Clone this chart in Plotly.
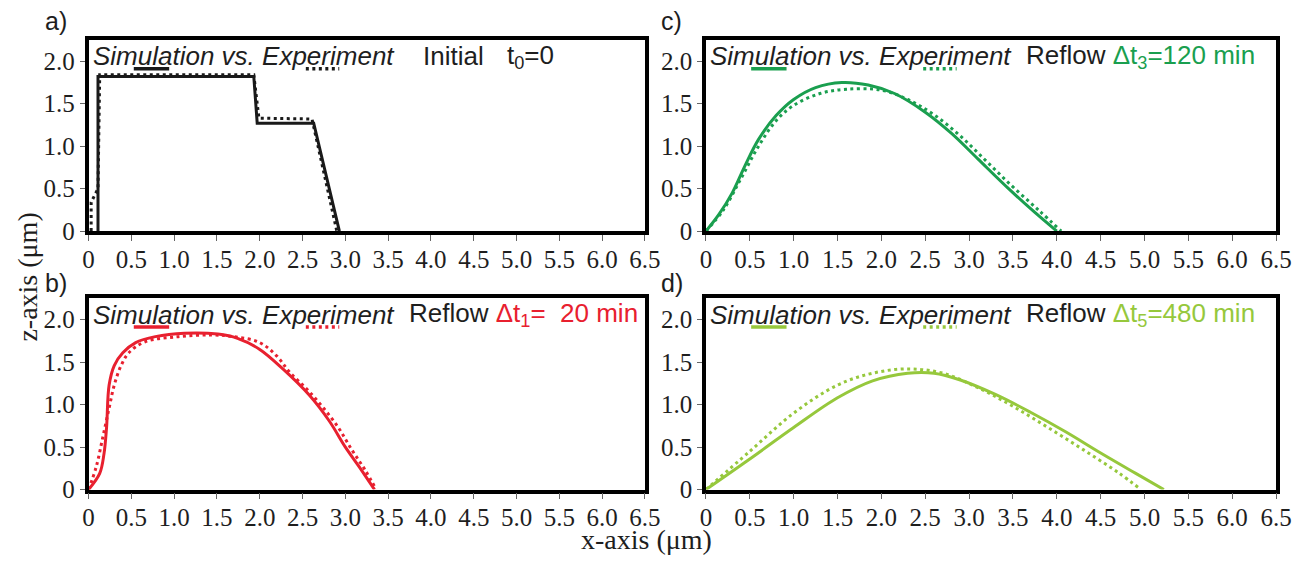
import plotly.graph_objects as go

# ---------------- data ----------------
x_ticks = [0, 0.5, 1.0, 1.5, 2.0, 2.5, 3.0, 3.5, 4.0, 4.5, 5.0, 5.5, 6.0, 6.5]
x_ticktext = ["0", "0.5", "1.0", "1.5", "2.0", "2.5", "3.0", "3.5", "4.0", "4.5", "5.0", "5.5", "6.0", "6.5"]
y_ticks = [0, 0.5, 1.0, 1.5, 2.0]
y_ticktext = ["0", "0.5", "1.0", "1.5", "2.0"]

# a) initial, t0 = 0
a_sim_x = [0.11, 0.11, 1.93, 1.97, 2.63, 2.93]
a_sim_y = [0.0, 1.82, 1.82, 1.27, 1.27, 0.0]
a_exp_x = [0.03, 0.03, 0.11, 0.13, 1.93, 1.99, 2.61, 2.90]
a_exp_y = [0.0, 0.34, 0.50, 1.84, 1.84, 1.33, 1.32, 0.0]

# b) reflow 20 min
b_sim_x = [0, 0.13, 0.18, 0.21, 0.24, 0.30, 0.40, 0.55, 0.78, 1.12, 1.51, 1.74, 2.0, 2.27, 2.58, 2.81, 3.0, 3.16, 3.34]
b_sim_y = [0, 0.19, 0.42, 0.73, 1.23, 1.46, 1.61, 1.73, 1.80, 1.84, 1.83, 1.78, 1.65, 1.42, 1.11, 0.81, 0.50, 0.27, 0.0]
b_exp_x = [0, 0.09, 0.165, 0.24, 0.30, 0.38, 0.47, 0.66, 1.05, 1.43, 1.70, 2.0, 2.2, 2.35, 2.58, 2.89, 3.08, 3.23, 3.36]
b_exp_y = [0, 0.27, 0.61, 0.96, 1.23, 1.46, 1.61, 1.74, 1.80, 1.82, 1.80, 1.73, 1.57, 1.38, 1.15, 0.77, 0.46, 0.23, 0.0]

# c) reflow 120 min
c_sim_x = [0, 0.15, 0.30, 0.45, 0.60, 0.80, 1.0, 1.25, 1.55, 1.85, 2.15, 2.50, 2.80, 3.10, 3.45, 3.75, 4.0]
c_sim_y = [0, 0.20, 0.45, 0.78, 1.08, 1.36, 1.55, 1.69, 1.75, 1.72, 1.62, 1.40, 1.15, 0.85, 0.50, 0.22, 0.0]
c_exp_x = [0, 0.20, 0.40, 0.60, 0.80, 1.0, 1.3, 1.6, 2.0, 2.3, 2.6, 2.9, 3.2, 3.5, 3.8, 4.05]
c_exp_y = [0, 0.25, 0.62, 1.0, 1.30, 1.48, 1.62, 1.67, 1.66, 1.55, 1.37, 1.12, 0.82, 0.52, 0.24, 0.0]

# d) reflow 480 min
d_sim_x = [0, 0.5, 1.0, 1.5, 1.9, 2.3, 2.6, 2.9, 3.3, 3.7, 4.1, 4.5, 4.9, 5.22]
d_sim_y = [0, 0.36, 0.73, 1.08, 1.28, 1.37, 1.37, 1.29, 1.12, 0.91, 0.68, 0.43, 0.19, 0.0]
d_exp_x = [0, 0.5, 1.0, 1.5, 1.9, 2.3, 2.7, 3.1, 3.5, 3.9, 4.3, 4.7, 4.96]
d_exp_y = [0, 0.45, 0.90, 1.23, 1.37, 1.42, 1.37, 1.20, 0.98, 0.73, 0.47, 0.20, 0.0]

panels = [
    dict(key="a", sx=a_sim_x, sy=a_sim_y, ex=a_exp_x, ey=a_exp_y, color="#1a1a1a", shape="linear"),
    dict(key="b", sx=b_sim_x, sy=b_sim_y, ex=b_exp_x, ey=b_exp_y, color="#e8202f", shape="spline"),
    dict(key="c", sx=c_sim_x, sy=c_sim_y, ex=c_exp_x, ey=c_exp_y, color="#1a9f4f", shape="spline"),
    dict(key="d", sx=d_sim_x, sy=d_sim_y, ex=d_exp_x, ey=d_exp_y, color="#96c83c", shape="spline"),
]

# ---------------- layout geometry ----------------
W, H = 1298, 565
def px_x(p):
    return p / W
def px_y(p):
    return 1 - p / H

dom = {
    "a": ([px_x(84), px_x(650)], [px_y(237), px_y(41)]),
    "b": ([px_x(84), px_x(650)], [px_y(502), px_y(306)]),
    "c": ([px_x(712), px_x(1292)], [px_y(237), px_y(41)]),
    "d": ([px_x(712), px_x(1292)], [px_y(502), px_y(306)]),
}

SERIF = "Liberation Serif"
SANS = "Liberation Sans"
TXT = "#1e1e1e"
LEG_SIZE = 26
TICK_FONT = dict(family=SERIF, size=25, color=TXT)

fig = go.Figure()
annotations, shapes = [], []
layout_axes = {}

for i, p in enumerate(panels):
    n = i + 1
    xa = "x" if n == 1 else f"x{n}"
    ya = "y" if n == 1 else f"y{n}"
    xd, yd = dom[p["key"]]
    line_sim = dict(color=p["color"], width=3, shape=p["shape"])
    line_exp = dict(color=p["color"], width=3, shape=p["shape"], dash="3px,3.5px")
    if p["shape"] == "spline":
        line_sim["smoothing"] = 1.0
        line_exp["smoothing"] = 1.0
    fig.add_trace(go.Scatter(x=p["ex"], y=p["ey"], mode="lines", line=line_exp,
                             xaxis=xa, yaxis=ya, hoverinfo="skip"))
    fig.add_trace(go.Scatter(x=p["sx"], y=p["sy"], mode="lines", line=line_sim,
                             xaxis=xa, yaxis=ya, hoverinfo="skip"))
    axk = "xaxis" if n == 1 else f"xaxis{n}"
    ayk = "yaxis" if n == 1 else f"yaxis{n}"
    layout_axes[axk] = dict(
        domain=xd, anchor=ya, range=[0, 6.5],
        tickmode="array", tickvals=x_ticks, ticktext=x_ticktext,
        tickfont=dict(TICK_FONT), ticklabelstandoff=-3,
        ticks="outside", ticklen=6, tickwidth=1, tickcolor="#666666",
        showline=True, mirror=True, linewidth=3.5, linecolor="black",
        showgrid=False, zeroline=False, fixedrange=True,
    )
    layout_axes[ayk] = dict(
        domain=yd, anchor=xa, range=[0, 2.25],
        tickmode="array", tickvals=y_ticks, ticktext=y_ticktext,
        tickfont=dict(TICK_FONT),
        ticks="outside", ticklen=5, tickwidth=1, tickcolor="#666666",
        showline=True, mirror=True, linewidth=3.5, linecolor="black",
        showgrid=False, zeroline=False, fixedrange=True,
    )

    xr = f"{xa} domain"
    yr = f"{ya} domain"
    width_px = (xd[1] - xd[0]) * W
    annotations.append(dict(
        text="<i>Simulation vs. Experiment</i>", xref=xr, yref=yr, x=2 / width_px, y=0.915,
        xanchor="left", yanchor="middle", showarrow=False,
        font=dict(family=SANS, size=LEG_SIZE, color=TXT),
    ))
    shapes.append(dict(type="line", xref=xr, yref=yr,
                       x0=46 / width_px, x1=82 / width_px, y0=0.85, y1=0.85,
                       line=dict(color=p["color"], width=3.5)))
    shapes.append(dict(type="line", xref=xr, yref=yr,
                       x0=221 / width_px, x1=255 / width_px, y0=0.85, y1=0.85,
                       line=dict(color=p["color"], width=3.5, dash="3px,3.5px")))

def label(text, xr, yr, x):
    annotations.append(dict(text=text, xref=xr, yref=yr, x=x, y=0.915,
                            xanchor="left", yanchor="middle", showarrow=False,
                            font=dict(family=SANS, size=LEG_SIZE, color=TXT)))

label("Initial", "x domain", "y domain", (422 - 84) / 566)
label("t<sub>0</sub>=0", "x domain", "y domain", (508 - 84) / 566)
label("Reflow <span style='color:#e8202f'>Δt<sub>1</sub>=\u00a0 20 min</span>", "x2 domain", "y2 domain", (408 - 84) / 566)
label("Reflow <span style='color:#1a9f4f'>Δt<sub>3</sub>=120 min</span>", "x3 domain", "y3 domain", (1036 - 712) / 580)
label("Reflow <span style='color:#96c83c'>Δt<sub>5</sub>=480 min</span>", "x4 domain", "y4 domain", (1036 - 712) / 580)

for letter, xp, yp in [("a)", 38, 22), ("b)", 38, 290), ("c)", 664, 22), ("d)", 664, 290)]:
    annotations.append(dict(text=letter, xref="paper", yref="paper", x=px_x(xp), y=px_y(yp),
                            xanchor="left", yanchor="middle", showarrow=False,
                            font=dict(family=SANS, size=25, color=TXT)))

annotations.append(dict(text="z-axis (μm)", xref="paper", yref="paper", x=px_x(22), y=px_y(284),
                        xanchor="center", yanchor="middle", textangle=-90, showarrow=False,
                        font=dict(family=SERIF, size=28, color=TXT)))
annotations.append(dict(text="x-axis (μm)", xref="paper", yref="paper", x=px_x(652), y=px_y(553),
                        xanchor="center", yanchor="middle", showarrow=False,
                        font=dict(family=SERIF, size=28, color=TXT)))

fig.update_layout(
    width=W, height=H,
    margin=dict(l=0, r=0, t=0, b=0),
    paper_bgcolor="white", plot_bgcolor="white",
    font=dict(family=SERIF, size=24, color=TXT),
    showlegend=False,
    annotations=annotations, shapes=shapes,
    **layout_axes,
)
fig.write_html("out.html")
